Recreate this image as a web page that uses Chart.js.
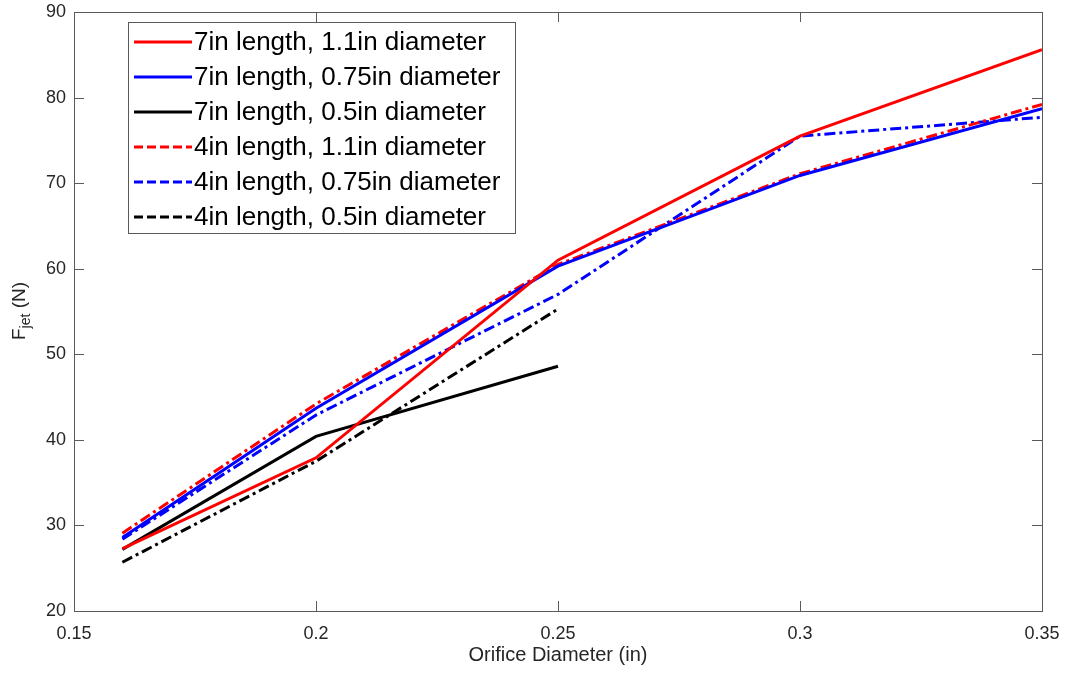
<!DOCTYPE html>
<html>
<head>
<meta charset="utf-8">
<script src="https://cdn.jsdelivr.net/npm/chart.js@4/dist/chart.umd.min.js"></script>
<style>
  html, body { margin: 0; padding: 0; background: #fff; }
  #wrap { width: 1065px; height: 677px; }
</style>
</head>
<body>
<div id="wrap"><canvas id="fjetChart" width="1065" height="677"></canvas></div>
<script>
// orifice diameters (in)
const diamFull = [0.16, 0.2, 0.25, 0.3, 0.35];
const diamShort = [0.16, 0.2, 0.25];

// F_jet (N)
const len7d110 = [27.3, 37.9, 61.0, 75.5, 85.6];
const len7d075 = [28.6, 43.7, 60.3, 70.9, 78.7];
const len7d050 = [27.2, 40.4, 48.6];
const len4d110 = [29.1, 44.2, 60.5, 71.1, 79.2];
const len4d075 = [28.4, 42.9, 57.0, 75.5, 77.7];
const len4d050 = [25.7, 37.5, 55.3];

const seriesLabels = [
    '7in length, 1.1in diameter',
    '7in length, 0.75in diameter',
    '7in length, 0.5in diameter',
    '4in length, 1.1in diameter',
    '4in length, 0.75in diameter',
    '4in length, 0.5in diameter'
];

const xTicks = [0.15, 0.2, 0.25, 0.3, 0.35];
const yTicks = [20, 30, 40, 50, 60, 70, 80, 90];

const dashDot = [11, 4, 3, 4];
const axisColor = '#262626';
const boxColor = '#5a5a5a';
const fontFam = 'Arial, "Liberation Sans", Helvetica, sans-serif';

function toPoints(xs, ys) {
    return xs.map((x, i) => ({ x: x, y: ys[i] }));
}

function makeSet(label, xs, ys, color, dash) {
    return {
        label: label,
        data: toPoints(xs, ys),
        borderColor: color,
        backgroundColor: color,
        borderWidth: 3,
        borderDash: dash,
        pointRadius: 0,
        tension: 0,
        fill: false
    };
}

// box, inward ticks, axis titles and legend, MATLAB style
const matlabLook = {
    id: 'matlabLook',
    afterDraw(chart) {
        const c = chart.ctx;
        const a = chart.chartArea;
        const xs = chart.scales.x;
        const ys = chart.scales.y;
        c.save();

        c.strokeStyle = boxColor;
        c.lineWidth = 1;
        c.strokeRect(a.left + 0.5, a.top + 0.5, a.right - a.left, a.bottom - a.top);

        c.beginPath();
        xTicks.forEach(v => {
            const px = Math.round(xs.getPixelForValue(v)) + 0.5;
            c.moveTo(px, a.bottom); c.lineTo(px, a.bottom - 10);
            c.moveTo(px, a.top); c.lineTo(px, a.top + 10);
        });
        yTicks.forEach(v => {
            const py = Math.round(ys.getPixelForValue(v)) + 0.5;
            c.moveTo(a.left, py); c.lineTo(a.left + 10, py);
            c.moveTo(a.right, py); c.lineTo(a.right - 10, py);
        });
        c.stroke();

        // x title
        c.fillStyle = axisColor;
        c.font = '20px ' + fontFam;
        c.textAlign = 'center';
        c.textBaseline = 'middle';
        c.fillText('Orifice Diameter (in)', (a.left + a.right) / 2, 655);

        // y title with subscript
        c.translate(25, 311);
        c.rotate(-Math.PI / 2);
        c.textAlign = 'left';
        c.textBaseline = 'alphabetic';
        const big = '19px ' + fontFam;
        const small = '14px ' + fontFam;
        c.font = big; const wF = c.measureText('F').width;
        c.font = small; const wSub = c.measureText('jet').width;
        c.font = big; const wN = c.measureText(' (N)').width;
        let x0 = -(wF + wSub + wN) / 2;
        c.font = big; c.fillText('F', x0, 0);
        c.font = small; c.fillText('jet', x0 + wF, 5);
        c.font = big; c.fillText(' (N)', x0 + wF + wSub, 0);
        c.setTransform(1, 0, 0, 1, 0, 0);

        // legend
        const lx = 128, ly = 22, lw = 387, lh = 211;
        c.fillStyle = '#fff';
        c.fillRect(lx, ly, lw, lh);
        c.strokeStyle = boxColor;
        c.lineWidth = 1;
        c.strokeRect(lx + 0.5, ly + 0.5, lw, lh);
        c.font = '26px ' + fontFam;
        c.textBaseline = 'middle';
        c.textAlign = 'left';
        chart.data.datasets.forEach((ds, i) => {
            const cy = ly + 20 + i * 35;
            c.strokeStyle = ds.borderColor;
            c.lineWidth = 3;
            c.setLineDash(ds.borderDash.length ? [9, 4] : []);
            c.beginPath();
            c.moveTo(lx + 6, cy); c.lineTo(lx + 64, cy);
            c.stroke();
            c.setLineDash([]);
            c.fillStyle = '#000';
            c.fillText(ds.label, lx + 66, cy + 1);
        });
        c.restore();
    }
};

const ctx = document.getElementById('fjetChart').getContext('2d');
new Chart(ctx, {
    type: 'line',
    data: {
        datasets: [
            makeSet(seriesLabels[0], diamFull, len7d110, '#ff0000', []),
            makeSet(seriesLabels[1], diamFull, len7d075, '#0000ff', []),
            makeSet(seriesLabels[2], diamShort, len7d050, '#000000', []),
            makeSet(seriesLabels[3], diamFull, len4d110, '#ff0000', dashDot),
            makeSet(seriesLabels[4], diamFull, len4d075, '#0000ff', dashDot),
            makeSet(seriesLabels[5], diamShort, len4d050, '#000000', dashDot)
        ]
    },
    options: {
        responsive: false,
        animation: false,
        devicePixelRatio: 1,
        layout: { padding: { top: 12, right: 23, left: 0, bottom: 0 } },
        plugins: { legend: { display: false }, tooltip: { enabled: false } },
        scales: {
            x: {
                type: 'linear',
                min: 0.15,
                max: 0.35,
                afterBuildTicks: s => { s.ticks = xTicks.map(v => ({ value: v })); },
                afterFit: s => { s.height = 66; s.paddingLeft = 0; s.paddingRight = 0; },
                grid: { display: false, drawTicks: false },
                border: { display: false },
                ticks: {
                    padding: 12,
                    color: axisColor,
                    font: { family: fontFam, size: 18 },
                    callback: v => String(+v.toFixed(2))
                }
            },
            y: {
                min: 20,
                max: 90,
                afterBuildTicks: s => { s.ticks = yTicks.map(v => ({ value: v })); },
                afterFit: s => { s.width = 74; s.paddingTop = 0; s.paddingBottom = 0; },
                grid: { display: false, drawTicks: false },
                border: { display: false },
                ticks: {
                    padding: 8,
                    color: axisColor,
                    font: { family: fontFam, size: 18 }
                }
            }
        }
    },
    plugins: [matlabLook]
});
</script>
</body>
</html>
